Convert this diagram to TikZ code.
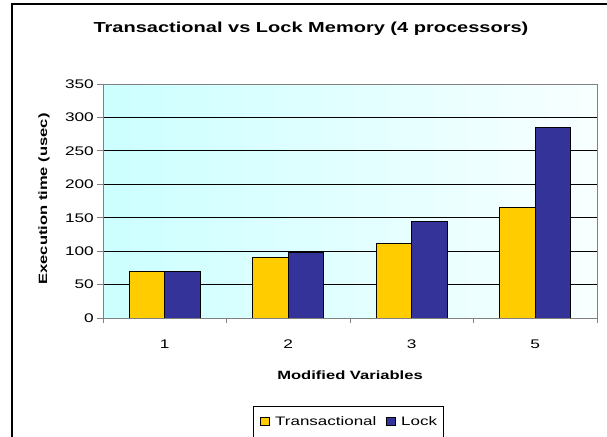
\documentclass[tikz,border=0pt]{standalone}
\usepackage{fontspec}
\newfontfamily\af{Liberation Sans}[FakeStretch=1.38]
\definecolor{bartr}{HTML}{FFCC00}
\definecolor{barlk}{HTML}{333399}
\definecolor{bgleft}{HTML}{CCFFFF}
\definecolor{bgright}{HTML}{F8FFFF}
\definecolor{axisgray}{HTML}{808080}
\tikzset{
  ticklbl/.style={font=\af\fontsize{12.5}{14}\selectfont, inner sep=0pt},
  axtitle/.style={font=\af\bfseries\fontsize{12}{14}\selectfont, inner sep=0pt},
  bar/.style={draw=black, line width=0.9pt},
  grid/.style={draw=black, line width=0.8pt},
  axisline/.style={draw=axisgray, line width=1pt},
}
\begin{document}
\begin{tikzpicture}[x=1pt,y=-1pt]
\useasboundingbox (0,0) rectangle (607,436);
\clip (0,0) rectangle (607,436);
\fill[white] (0,0) rectangle (607,436);
% outer chart frame
\draw[black, line width=1.5pt] (12,445) -- (12,4) -- (615,4);
% plot area
\shade[left color=bgleft, right color=bgright] (103,84) rectangle (597,318);
\foreach \v in {50,100,...,300} {
  \draw[grid] (103,{318-\v*0.6685714}) -- (597,{318-\v*0.6685714});
}
\draw[axisline] (103,84) -- (597,84) -- (597,318);
% bars
\foreach \k/\t/\l/\c in {0/70/70/1, 1/90/98/2, 2/112/145/3, 3/165/285/5} {
  \pgfmathsetmacro{\xo}{103+123.5*\k}
  \draw[bar, fill=bartr] (\xo+26,318) rectangle (\xo+61.7,{318-\t*0.6685714});
  \draw[bar, fill=barlk] (\xo+61.7,318) rectangle (\xo+97.4,{318-\l*0.6685714});
  \node[ticklbl, anchor=base] (cat\k) at (\xo+61.75,348) {\c};
}
% axes
\draw[axisline] (103,84) -- (103,318) -- (597,318);
\foreach \v in {0,50,...,350} {
  \draw[axisline] (97,{318-\v*0.6685714}) -- (103,{318-\v*0.6685714});
  \node[ticklbl, anchor=east] (y\v) at (94,{318-\v*0.6685714}) {\v};
}
\foreach \k in {0,...,4} {
  \draw[axisline] (103+123.5*\k,318) -- (103+123.5*\k,323);
}
% titles
\node[font=\af\bfseries\fontsize{14.5}{16}\selectfont, inner sep=0pt, anchor=base] (title) at (311,33) {Transactional vs Lock Memory (4 processors)};
\node[axtitle, anchor=base] (xtitle) at (350,379) {Modified Variables};
\node[axtitle, rotate=90] (ytitle) at (44,199) {Execution time (usec)};
% legend
\draw[black, line width=0.8pt] (253,445) -- (253,406) -- (443,406) -- (443,445);
\node[draw=black, fill=bartr, line width=0.8pt, minimum size=8.5pt, inner sep=0pt] (lgtr) at (265,421.5) {};
\node[draw=black, fill=barlk, line width=0.8pt, minimum size=8.5pt, inner sep=0pt] (lglk) at (391,421.5) {};
\node[font=\af\fontsize{12.3}{14}\selectfont, inner sep=0pt, anchor=base west] (lgtrt) at (275,425.5) {Transactional};
\node[font=\af\fontsize{12.3}{14}\selectfont, inner sep=0pt, anchor=base west] (lglkt) at (401,425.5) {Lock};
\end{tikzpicture}
\end{document}
